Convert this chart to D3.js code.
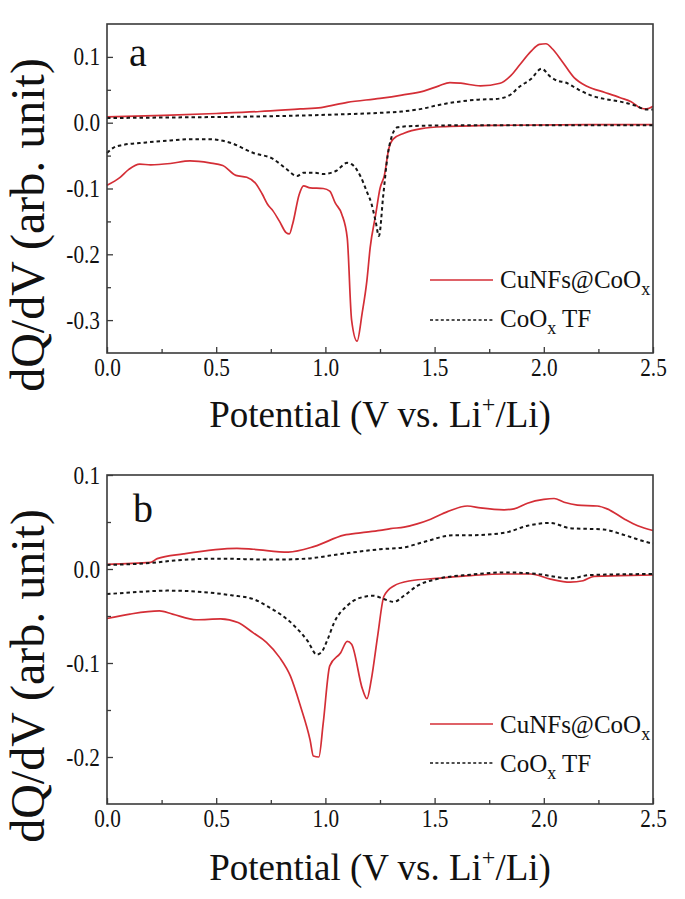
<!DOCTYPE html>
<html><head><meta charset="utf-8">
<script src="https://cdn.jsdelivr.net/npm/d3@7"></script>
<style>
body{margin:0;background:#fff}
svg{display:block}
text{font-family:"Liberation Serif","Times New Roman",Times,Tinos,"Nimbus Roman","DejaVu Serif",serif;fill:#111}
</style>
</head><body><svg id="chart" width="685" height="899"></svg>
<script>
// ---------------- DATA ----------------
// Panel a : [potential (V), dQ/dV]
const aCuNFsCharge = [[0,0.009],[0.26,0.011],[0.5,0.014],[0.7,0.017],[0.885,0.021],[0.98,0.023],[1.1,0.031],[1.25,0.037],[1.35,0.042],[1.45,0.048],[1.52,0.056],[1.57,0.061],[1.62,0.060],[1.71,0.056],[1.8,0.060],[1.85,0.072],[1.89,0.088],[1.94,0.108],[1.98,0.119],[2.01,0.120],[2.04,0.112],[2.08,0.095],[2.14,0.068],[2.2,0.055],[2.28,0.046],[2.35,0.038],[2.4,0.032],[2.445,0.022],[2.47,0.021],[2.5,0.025]];
const aCoOxCharge = [[0,0.007],[0.3,0.008],[0.6,0.009],[0.9,0.011],[1.1,0.013],[1.25,0.015],[1.35,0.017],[1.44,0.021],[1.52,0.027],[1.59,0.031],[1.7,0.035],[1.78,0.036],[1.84,0.041],[1.89,0.055],[1.94,0.066],[1.99,0.082],[2.03,0.070],[2.06,0.064],[2.1,0.061],[2.16,0.050],[2.22,0.041],[2.28,0.036],[2.35,0.032],[2.42,0.026],[2.47,0.020],[2.5,0.020]];
const aCuNFsDischarge = [[0,-0.095],[0.06,-0.083],[0.1,-0.071],[0.15,-0.063],[0.2,-0.064],[0.29,-0.062],[0.38,-0.058],[0.47,-0.061],[0.53,-0.065],[0.59,-0.080],[0.64,-0.083],[0.68,-0.092],[0.71,-0.108],[0.735,-0.124],[0.76,-0.134],[0.79,-0.150],[0.82,-0.167],[0.835,-0.169],[0.85,-0.154],[0.88,-0.109],[0.9,-0.096],[0.93,-0.099],[0.99,-0.100],[1.02,-0.104],[1.045,-0.122],[1.075,-0.139],[1.1,-0.175],[1.12,-0.300],[1.145,-0.332],[1.168,-0.290],[1.19,-0.240],[1.205,-0.190],[1.23,-0.140],[1.25,-0.100],[1.27,-0.080],[1.29,-0.040],[1.31,-0.025],[1.36,-0.016],[1.44,-0.009],[1.55,-0.006],[1.8,-0.004],[2.2,-0.003],[2.5,-0.003]];
const aCoOxDischarge = [[0,-0.046],[0.03,-0.038],[0.07,-0.034],[0.18,-0.030],[0.29,-0.027],[0.38,-0.025],[0.47,-0.025],[0.56,-0.030],[0.67,-0.046],[0.76,-0.055],[0.82,-0.070],[0.87,-0.081],[0.9,-0.076],[0.95,-0.076],[0.99,-0.078],[1.05,-0.073],[1.1,-0.061],[1.12,-0.063],[1.16,-0.081],[1.19,-0.105],[1.21,-0.122],[1.23,-0.150],[1.245,-0.172],[1.265,-0.110],[1.285,-0.050],[1.3,-0.025],[1.33,-0.007],[1.4,-0.005],[1.6,-0.004],[2.5,-0.004]];

// Panel b
const bCuNFsCharge = [[0,0.005],[0.2,0.007],[0.23,0.011],[0.35,0.016],[0.595,0.022],[0.67,0.021],[0.83,0.018],[0.95,0.024],[1.085,0.036],[1.16,0.0385],[1.25,0.041],[1.298,0.043],[1.36,0.0445],[1.42,0.048],[1.482,0.053],[1.559,0.061],[1.65,0.067],[1.71,0.065],[1.818,0.063],[1.864,0.064],[1.925,0.070],[2.0,0.074],[2.047,0.075],[2.093,0.071],[2.154,0.068],[2.245,0.067],[2.29,0.064],[2.37,0.053],[2.43,0.046],[2.5,0.041]];
const bCoOxCharge = [[0,0.0043],[0.2,0.0064],[0.31,0.009],[0.5,0.011],[0.76,0.010],[0.91,0.011],[1.07,0.016],[1.25,0.021],[1.36,0.023],[1.44,0.028],[1.59,0.036],[1.67,0.036],[1.82,0.0385],[1.925,0.046],[2.03,0.049],[2.12,0.0435],[2.275,0.042],[2.37,0.036],[2.49,0.0275],[2.5,0.027]];
const bCuNFsDischarge = [[0,-0.0527],[0.105,-0.048],[0.24,-0.0446],[0.3,-0.048],[0.41,-0.054],[0.52,-0.053],[0.6,-0.057],[0.67,-0.068],[0.73,-0.078],[0.79,-0.094],[0.84,-0.114],[0.886,-0.146],[0.93,-0.182],[0.945,-0.199],[0.97,-0.200],[0.99,-0.164],[1.02,-0.103],[1.07,-0.089],[1.1,-0.077],[1.12,-0.080],[1.17,-0.128],[1.19,-0.138],[1.21,-0.118],[1.24,-0.070],[1.268,-0.029],[1.313,-0.018],[1.39,-0.0125],[1.51,-0.010],[1.665,-0.007],[1.818,-0.0053],[1.94,-0.0053],[2.03,-0.0107],[2.12,-0.014],[2.18,-0.0125],[2.23,-0.0078],[2.35,-0.0071],[2.5,-0.0064]];
const bCoOxDischarge = [[0,-0.0267],[0.105,-0.025],[0.275,-0.023],[0.41,-0.024],[0.57,-0.028],[0.67,-0.032],[0.73,-0.039],[0.86,-0.061],[0.92,-0.077],[0.96,-0.091],[0.98,-0.089],[1.01,-0.075],[1.04,-0.057],[1.1,-0.039],[1.19,-0.029],[1.22,-0.0285],[1.268,-0.032],[1.313,-0.035],[1.36,-0.0285],[1.42,-0.018],[1.51,-0.0107],[1.665,-0.006],[1.818,-0.0036],[1.97,-0.0053],[2.12,-0.010],[2.21,-0.0064],[2.5,-0.0053]];

// Axis ticks
const xTicks = [0, 0.5, 1.0, 1.5, 2.0, 2.5];
const xMinorTicks = [0.25, 0.75, 1.25, 1.75, 2.25];
const aYTicks = [0.1, 0.0, -0.1, -0.2, -0.3];
const aYMinorTicks = [0.05, -0.05, -0.15, -0.25];
const bYTicks = [0.1, 0.0, -0.1, -0.2];
const bYMinorTicks = [0.05, -0.05, -0.15];
const xDomain = [0, 2.5];
const aYDomain = [-0.35, 0.15];
const bYDomain = [-0.25, 0.1];

// Text
const panelLabels = ["a", "b"];
const legendMain = ["CuNFs@CoO", "CoO"];
const legendSub = ["x", "x"];
const legendTail = ["", " TF"];
const xTitle = "Potential (V vs. Li";
const yTitle = "dQ/dV (arb. unit)";

// ---------------- DRAWING ----------------
const FONT = '"Liberation Serif","Times New Roman",Times,Tinos,"Nimbus Roman","DejaVu Serif",serif';
const svg = d3.select("#chart").attr("font-family", FONT);
const RED = "#d42e36", BLK = "#161616", FRAME = "#3a3a3a";

function condense(sel, k) {
  sel.each(function () {
    const L = this.getComputedTextLength();
    d3.select(this).attr("textLength", L * k).attr("lengthAdjust", "spacingAndGlyphs");
  });
}

const panels = [
  { top: 24, bottom: 353, yDomain: aYDomain, yTicks: aYTicks, yMinor: aYMinorTicks,
    series: [aCuNFsCharge, aCuNFsDischarge, aCoOxCharge, aCoOxDischarge],
    label: panelLabels[0], labelX: 129, labelY: 66,
    legY: [280, 320], legBase: [288, 327], xTitleY: 427, yTitleC: 225 },
  { top: 475, bottom: 804, yDomain: bYDomain, yTicks: bYTicks, yMinor: bYMinorTicks,
    series: [bCuNFsCharge, bCuNFsDischarge, bCoOxCharge, bCoOxDischarge],
    label: panelLabels[1], labelX: 133, labelY: 522,
    legY: [724, 763], legBase: [733, 772], xTitleY: 880, yTitleC: 676 }
];
const left = 107, right = 653;
const fmt = d => d.toFixed(1);

panels.forEach(p => {
  const g = svg.append("g");
  const x = d3.scaleLinear().domain(xDomain).range([left, right]);
  const y = d3.scaleLinear().domain(p.yDomain).range([p.bottom, p.top]);

  // minor ticks
  g.append("g").attr("transform", `translate(0,${p.bottom})`)
    .call(d3.axisBottom(x).tickValues(xMinorTicks).tickSize(-4).tickFormat(""))
    .call(s => s.select(".domain").remove());
  g.append("g").attr("transform", `translate(${left},0)`)
    .call(d3.axisLeft(y).tickValues(p.yMinor).tickSize(-4).tickFormat(""))
    .call(s => s.select(".domain").remove());

  // major ticks
  const gx = g.append("g").attr("transform", `translate(0,${p.bottom})`)
    .call(d3.axisBottom(x).tickValues(xTicks).tickSize(-6).tickPadding(5).tickFormat(fmt))
    .call(s => s.select(".domain").remove());
  const gy = g.append("g").attr("transform", `translate(${left},0)`)
    .call(d3.axisLeft(y).tickValues(p.yTicks).tickSize(-6).tickPadding(7).tickFormat(fmt))
    .call(s => s.select(".domain").remove());
  [gx, gy].forEach(ax => {
    ax.attr("font-family", FONT).attr("font-size", 25);
    ax.selectAll(".tick text").attr("fill", "#111");
    condense(ax.selectAll(".tick text"), 0.85);
  });
  g.selectAll(".tick line").attr("stroke", FRAME).attr("stroke-width", 1.3);

  // lines
  const line = d3.line().x(d => x(d[0])).y(d => y(d[1])).curve(d3.curveMonotoneX);
  p.series.forEach((s, i) => {
    const dashed = i >= 2;
    g.append("path").datum(s).attr("d", line).attr("fill", "none")
      .attr("stroke", dashed ? BLK : RED)
      .attr("stroke-width", dashed ? 2 : 1.7)
      .attr("stroke-dasharray", dashed ? "3.5,3" : null)
      .attr("stroke-linejoin", "round");
  });

  // frame
  g.append("rect").attr("x", left).attr("y", p.top)
    .attr("width", right - left).attr("height", p.bottom - p.top)
    .attr("fill", "none").attr("stroke", FRAME).attr("stroke-width", 1.6);

  // panel label
  g.append("text").attr("x", p.labelX).attr("y", p.labelY)
    .attr("font-size", 40).text(p.label);

  // legend
  [0, 1].forEach(i => {
    g.append("line").attr("x1", 430).attr("x2", 493)
      .attr("y1", p.legY[i]).attr("y2", p.legY[i])
      .attr("stroke", i === 0 ? RED : BLK).attr("stroke-width", i === 0 ? 1.7 : 1.6)
      .attr("stroke-dasharray", i === 0 ? null : "3,2.4");
    const t = g.append("text").attr("x", 500).attr("y", p.legBase[i]).attr("font-size", 25);
    t.append("tspan").text(legendMain[i]);
    t.append("tspan").attr("font-size", 18).attr("dy", 7).text(legendSub[i]);
    if (legendTail[i]) t.append("tspan").attr("dy", -7).text(legendTail[i]);
  });

  // x title
  const xt = g.append("text").attr("x", (left + right) / 2).attr("y", p.xTitleY)
    .attr("text-anchor", "middle").attr("font-size", 37);
  xt.append("tspan").text(xTitle);
  xt.append("tspan").attr("font-size", 24).attr("dy", -15).text("+");
  xt.append("tspan").attr("dy", 15).text("/Li)");

  // y title
  g.append("text").attr("transform", `translate(44,${p.yTitleC}) rotate(-90)`)
    .attr("text-anchor", "middle").attr("font-size", 48).text(yTitle);
});
</script>
</body></html>
